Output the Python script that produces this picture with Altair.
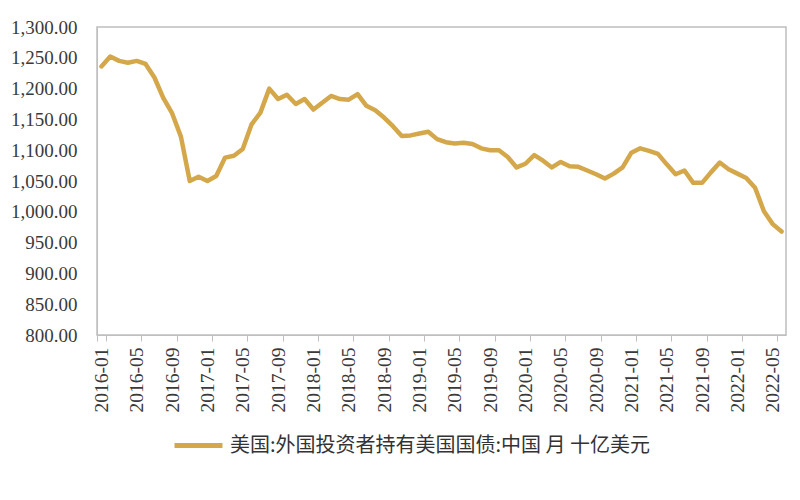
import altair as alt
import pandas as pd

months = [f"{y}-{m:02d}" for y in range(2016, 2023) for m in range(1, 13)][:78]
values = [
    1236, 1252, 1245, 1242, 1245, 1240, 1218, 1185, 1160, 1122, 1050, 1057,
    1050, 1058, 1088, 1091, 1102, 1142, 1161, 1200, 1183, 1190, 1175, 1183,
    1166, 1177, 1188, 1183, 1182, 1191, 1172, 1165, 1153, 1139, 1123, 1124,
    1127, 1130, 1118, 1113, 1111, 1112, 1110, 1103, 1100, 1100, 1089, 1072,
    1078, 1092, 1083, 1072, 1081, 1074, 1073, 1067, 1061, 1054, 1062, 1072,
    1096, 1103, 1099, 1094, 1077, 1061, 1067, 1047, 1047, 1064, 1080, 1069,
    1062, 1055, 1039, 1001, 980, 968,
]
series_name = "美国:外国投资者持有美国国债:中国 月 十亿美元"
tick_labels = months[::4]
y_ticks = list(range(800, 1301, 50))

df = pd.DataFrame({"month": months, "value": values, "series": series_name})

chart = alt.Chart(df).mark_line(strokeWidth=4.5, strokeJoin="round", strokeCap="round").encode(
    x=alt.X("month:O", sort=months,
            scale=alt.Scale(type="band", paddingInner=0, paddingOuter=0),
            axis=alt.Axis(title=None, values=tick_labels, labelAngle=270,
                          tickBand="extent", tickSize=6, tickColor="#bfbfbf",
                          domainColor="#bfbfbf", labelPadding=6,
                          labelFont="Liberation Serif", labelFontSize=19.5,
                          labelColor="#3a3a3a", labelBaseline="middle",
                          labelAlign="right")),
    y=alt.Y("value:Q", scale=alt.Scale(domain=[800, 1300], nice=False, zero=False),
            axis=alt.Axis(title=None, values=y_ticks, format=",.2f", grid=False,
                          ticks=False, domainColor="#bfbfbf", labelPadding=20,
                          labelFont="Liberation Serif", labelFontSize=19,
                          labelColor="#3a3a3a")),
    color=alt.Color("series:N", scale=alt.Scale(domain=[series_name], range=["#D4A84A"]),
                    legend=alt.Legend(title=None, orient="none", legendX=75, legendY=392,
                                      symbolType="stroke", symbolStrokeWidth=5,
                                      symbolSize=2300, labelFont="Noto Sans CJK SC",
                                      labelFontSize=20, labelColor="#333333",
                                      labelOffset=5, labelLimit=1000)),
).properties(
    width=689, height=308,
    autosize=alt.AutoSizeParams(type="none"),
    padding={"left": 89, "top": 19, "right": 6, "bottom": 157},
).configure_view(stroke="#bfbfbf", strokeWidth=1.5)

chart.save("out.html", embed_options={"renderer": "svg", "actions": False})
